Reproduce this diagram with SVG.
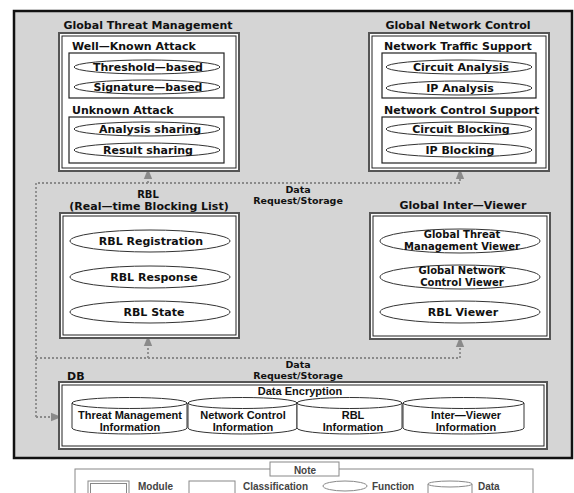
<svg xmlns="http://www.w3.org/2000/svg" width="574" height="493" viewBox="0 0 574 493">
<defs>
<style>
.t{font-family:"DejaVu Sans",sans-serif;font-weight:bold;font-size:11px;fill:#111}
.s{font-family:"DejaVu Sans",sans-serif;font-weight:bold;font-size:9.5px;fill:#111;text-anchor:middle}
.c{text-anchor:middle}
.two{font-size:10px}
.l{font-family:"Liberation Sans",Arial,sans-serif;font-weight:bold;font-size:11px;fill:#111;text-anchor:middle}
.g{font-family:"Liberation Sans",Arial,sans-serif;font-weight:bold;font-size:10px;fill:#444}
.mo{fill:#fff;stroke:#555;stroke-width:2}
.mi{fill:none;stroke:#222;stroke-width:1}
.cl{fill:#fff;stroke:#222;stroke-width:1.2}
.fn{fill:#fff;stroke:#333;stroke-width:1}
.cy{fill:#fff;stroke:#333;stroke-width:1}
.dot{fill:none;stroke:#8a8a8a;stroke-width:1.8;stroke-dasharray:2 2}
.lg{fill:#fff;stroke:#888;stroke-width:1}
</style>
<marker id="ah" viewBox="0 0 10 10" refX="5" refY="5" markerWidth="6" markerHeight="6" orient="auto">
<path d="M0,1 L10,5 L0,9 z" fill="#8a8a8a"/>
</marker>
</defs>
<rect x="0" y="0" width="574" height="493" fill="#fff"/>
<rect x="14" y="11" width="558" height="447" fill="#d5d5d5" stroke="#111" stroke-width="2.5"/>

<g id="connectors">
<polyline class="dot" points="36,417 36,183 460,183 460,174" marker-end="url(#ah)"/>
<line class="dot" x1="148" y1="183" x2="148" y2="174" marker-end="url(#ah)"/>
<polyline class="dot" points="36,358 460,358 460,342" marker-end="url(#ah)"/>
<line class="dot" x1="148" y1="358" x2="148" y2="341" marker-end="url(#ah)"/>
<polyline class="dot" points="36,417 56,417" marker-end="url(#ah)"/>
<text class="s" x="298" y="193">Data</text>
<text class="s" x="298" y="204">Request/Storage</text>
<text class="s" x="298" y="368">Data</text>
<text class="s" x="298" y="379">Request/Storage</text>
</g>

<g id="gtm">
<text class="t c" x="148" y="29">Global Threat Management</text>
<rect class="mo" x="59" y="33" width="180" height="138"/>
<rect class="mi" x="62" y="36" width="174" height="132"/>
<text class="t" x="72" y="50">Well—Known Attack</text>
<rect class="cl" x="69" y="53" width="155" height="45"/>
<ellipse class="fn" cx="147" cy="67" rx="73" ry="7"/>
<text class="t c" x="148" y="71">Threshold—based</text>
<ellipse class="fn" cx="147" cy="87" rx="73" ry="7"/>
<text class="t c" x="148" y="91">Signature—based</text>
<text class="t" x="72" y="114">Unknown Attack</text>
<rect class="cl" x="69" y="117" width="155" height="46"/>
<ellipse class="fn" cx="147" cy="129" rx="73" ry="7"/>
<text class="t c" x="150" y="133">Analysis sharing</text>
<ellipse class="fn" cx="147" cy="150" rx="73" ry="7"/>
<text class="t c" x="148" y="154">Result sharing</text>
</g>

<g id="gnc">
<text class="t c" x="458" y="29">Global Network Control</text>
<rect class="mo" x="369" y="33" width="180" height="138"/>
<rect class="mi" x="372" y="36" width="174" height="132"/>
<text class="t" x="384" y="50">Network Traffic Support</text>
<rect class="cl" x="382" y="53" width="154" height="45"/>
<ellipse class="fn" cx="459" cy="67" rx="73" ry="7"/>
<text class="t c" x="461" y="71">Circuit Analysis</text>
<ellipse class="fn" cx="459" cy="88" rx="73" ry="7"/>
<text class="t c" x="460" y="92">IP Analysis</text>
<text class="t" x="384" y="114">Network Control Support</text>
<rect class="cl" x="382" y="117" width="154" height="46"/>
<ellipse class="fn" cx="459" cy="129" rx="73" ry="7"/>
<text class="t c" x="461" y="133">Circuit Blocking</text>
<ellipse class="fn" cx="459" cy="150" rx="73" ry="7"/>
<text class="t c" x="460" y="154">IP Blocking</text>
</g>

<g id="rbl">
<text class="t c two" x="148" y="198">RBL</text>
<text class="t c" x="149" y="210">(Real—time Blocking List)</text>
<rect class="mo" x="60" y="213" width="179" height="125"/>
<rect class="mi" x="63" y="216" width="173" height="119"/>
<ellipse class="fn" cx="150" cy="241" rx="80" ry="11"/>
<text class="t c" x="151" y="245">RBL Registration</text>
<ellipse class="fn" cx="150" cy="277" rx="80" ry="11"/>
<text class="t c" x="154" y="281">RBL Response</text>
<ellipse class="fn" cx="150" cy="312" rx="80" ry="11"/>
<text class="t c" x="154" y="316">RBL State</text>
</g>

<g id="giv">
<text class="t c" x="463" y="209">Global Inter—Viewer</text>
<rect class="mo" x="370" y="213" width="180" height="126"/>
<rect class="mi" x="373" y="216" width="174" height="120"/>
<ellipse class="fn" cx="460" cy="241" rx="80" ry="12"/>
<text class="t c two" x="462" y="238">Global Threat</text>
<text class="t c two" x="462" y="250">Management Viewer</text>
<ellipse class="fn" cx="460" cy="277" rx="80" ry="12"/>
<text class="t c two" x="462" y="274">Global Network</text>
<text class="t c two" x="462" y="286">Control Viewer</text>
<ellipse class="fn" cx="460" cy="312" rx="80" ry="11"/>
<text class="t c" x="463" y="316">RBL Viewer</text>
</g>

<g id="db">
<text class="t" x="67" y="380">DB</text>
<rect class="mo" x="59" y="382" width="488" height="67"/>
<rect class="mi" x="62" y="385" width="482" height="61"/>
<text class="l" x="300" y="395">Data Encryption</text>
<g id="cyl-threat">
<path class="cy" d="M72,403 A57.5,5.5 0 0 1 187,403 V428 A57.5,6 0 0 1 72,428 Z"/>
<path class="cy" d="M72,403 A57.5,5.5 0 0 0 187,403"/>
<text class="l" x="130" y="419">Threat Management</text>
<text class="l" x="130" y="431">Information</text>
</g>
<g id="cyl-network">
<path class="cy" d="M188,403 A54.5,5.5 0 0 1 297,403 V428 A54.5,6 0 0 1 188,428 Z"/>
<path class="cy" d="M188,403 A54.5,5.5 0 0 0 297,403"/>
<text class="l" x="243" y="419">Network Control</text>
<text class="l" x="243" y="431">Information</text>
</g>
<g id="cyl-rbl">
<path class="cy" d="M297,403 A52.5,5.5 0 0 1 402,403 V428 A52.5,6 0 0 1 297,428 Z"/>
<path class="cy" d="M297,403 A52.5,5.5 0 0 0 402,403"/>
<text class="l" x="353" y="419">RBL</text>
<text class="l" x="353" y="431">Information</text>
</g>
<g id="cyl-viewer">
<path class="cy" d="M403,403 A60.5,5.5 0 0 1 524,403 V428 A60.5,6 0 0 1 403,428 Z"/>
<path class="cy" d="M403,403 A60.5,5.5 0 0 0 524,403"/>
<text class="l" x="466" y="419">Inter—Viewer</text>
<text class="l" x="466" y="431">Information</text>
</g>
</g>

<g id="legend">
<rect class="lg" x="75" y="469" width="458" height="40"/>
<rect class="lg" x="270" y="462" width="69" height="14"/>
<text class="g" x="305" y="474" text-anchor="middle" font-size="12">Note</text>
<rect class="lg" x="88" y="481" width="41" height="16" stroke="#666" stroke-width="1.5"/>
<rect fill="none" stroke="#888" x="90.5" y="483.5" width="36" height="12"/>
<text class="g" x="138" y="490">Module</text>
<rect class="lg" x="189" y="481" width="46" height="16"/>
<text class="g" x="243" y="490">Classification</text>
<ellipse class="lg" cx="345" cy="486" rx="22" ry="5"/>
<text class="g" x="372" y="490">Function</text>
<path class="lg" d="M428,484 A22,3 0 0 1 472,484 V497 H428 Z"/>
<path fill="none" stroke="#888" d="M428,484 A22,3 0 0 0 472,484"/>
<text class="g" x="478" y="490">Data</text>
</g>
</svg>
